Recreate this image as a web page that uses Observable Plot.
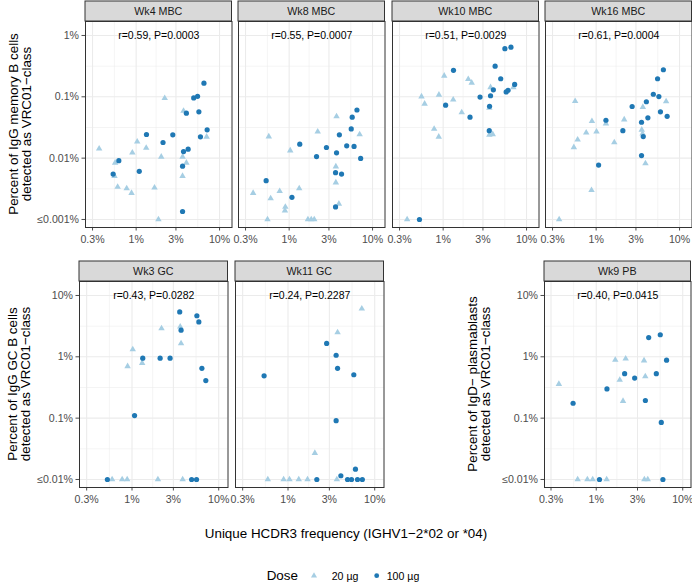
<!DOCTYPE html>
<html><head><meta charset="utf-8">
<script src="https://cdn.jsdelivr.net/npm/d3@7"></script>
<script src="https://cdn.jsdelivr.net/npm/@observablehq/plot@0.6"></script>
<style>
body{margin:0;background:#fff;}
#chart{position:relative;width:692px;height:586px;background:#fff;overflow:hidden;}
#chart svg{position:absolute;overflow:visible;}
</style></head><body><div id="chart"></div>
<script>
// ---------- data (x = unique HCDR3 frequency %, y = percent VRC01-class) ----------
const panelNames = ["Wk4 MBC", "Wk8 MBC", "Wk10 MBC", "Wk16 MBC", "Wk3 GC", "Wk11 GC", "Wk9 PB"];
const statLabels = ["r=0.59, P=0.0003", "r=0.55, P=0.0007", "r=0.51, P=0.0029", "r=0.61, P=0.0004",
                    "r=0.43, P=0.0282", "r=0.24, P=0.2287", "r=0.40, P=0.0415"];
const doseLabels = ["20 µg", "100 µg"];

const wk4_20 = [[2.2,0.095],[3.7,0.059],[7.0,0.0223],[0.36,0.0143],[1.03,0.0185],[1.32,0.0147],[0.9,0.0123],[2.0,0.0105],[3.6,0.0105],[4.0,0.0084],[0.56,0.0084],[0.55,0.0051],[3.6,0.0051],[0.6,0.0034],[0.77,0.0032],[0.88,0.0027],[1.66,0.0033],[1.85,0.001]];
const wk4_100 = [[6.5,0.167],[4.9,0.096],[5.45,0.102],[4.0,0.054],[5.65,0.057],[7.1,0.029],[5.9,0.0223],[1.33,0.0243],[2.75,0.024],[2.1,0.018],[3.7,0.0128],[4.2,0.014],[0.62,0.0091],[3.6,0.0074],[0.53,0.0055],[1.09,0.0061],[3.6,0.00135]];
const wk8_20 = [[3.7,0.048],[7.0,0.0243],[2.2,0.027],[0.57,0.0225],[1.03,0.0133],[3.63,0.0073],[3.63,0.0040],[1.32,0.0032],[0.77,0.0029],[0.37,0.0027],[0.6,0.0022],[0.9,0.0016],[0.89,0.0014],[3.95,0.0018],[0.55,0.001],[1.68,0.001],[1.84,0.001],[2.0,0.001]];
const wk8_100 = [[6.5,0.061],[5.7,0.0465],[5.55,0.030],[4.0,0.024],[4.9,0.0159],[6.0,0.0155],[7.2,0.0099],[1.34,0.0169],[2.8,0.0149],[3.7,0.0122],[2.13,0.0106],[3.6,0.0058],[4.25,0.0055],[0.53,0.0043],[1.08,0.0023],[3.6,0.0016]];
const wk10_20 = [[1.03,0.22],[2.0,0.194],[2.2,0.169],[3.7,0.143],[6.95,0.143],[0.55,0.101],[0.89,0.108],[0.6,0.077],[1.32,0.09],[1.67,0.0555],[3.58,0.066],[0.78,0.030],[0.885,0.0223],[3.58,0.024],[3.93,0.0245],[0.37,0.001]];
const wk10_100 = [[5.5,0.61],[6.5,0.645],[4.2,0.316],[1.33,0.27],[4.9,0.197],[7.2,0.159],[6.0,0.128],[5.7,0.12],[4.0,0.13],[3.7,0.104],[2.77,0.099],[3.6,0.07],[1.07,0.073],[2.1,0.0465],[3.57,0.028],[0.52,0.001]];
const wk16_20 = [[0.56,0.085],[6.9,0.084],[3.63,0.068],[0.89,0.04],[1.31,0.0367],[2.17,0.0426],[0.76,0.026],[1.01,0.027],[3.52,0.029],[3.6,0.025],[0.6,0.020],[0.54,0.015],[1.65,0.018],[3.9,0.0082],[0.88,0.003],[0.36,0.001]];
const wk16_100 = [[6.4,0.276],[5.45,0.197],[4.85,0.11],[5.65,0.101],[4.0,0.083],[2.7,0.0695],[5.9,0.057],[7.1,0.048],[4.17,0.0454],[3.5,0.0385],[1.31,0.0415],[2.09,0.028],[3.67,0.0225],[3.5,0.011],[1.07,0.0077]];
const wk3gc_20 = [[3.6,3.1],[2.19,2.9],[3.68,1.65],[1.02,1.32],[0.89,0.70],[1.31,0.79],[0.59,0.01],[0.77,0.01],[0.88,0.01],[1.99,0.01],[3.84,0.01]];
const wk3gc_100 = [[3.55,5.4],[5.6,4.67],[5.9,3.7],[3.68,2.72],[1.33,0.95],[2.11,0.95],[2.75,0.95],[6.4,0.65],[7.1,0.41],[1.07,0.11],[0.52,0.01],[4.87,0.01],[5.55,0.01]];
const wk11gc_20 = [[7.1,6.1],[3.73,2.5],[2.04,0.027],[0.585,0.01],[0.89,0.01],[1.04,0.01],[1.33,0.01],[1.68,0.01],[3.66,0.01]];
const wk11gc_100 = [[2.79,1.65],[3.59,1.06],[3.73,0.65],[0.53,0.49],[5.74,0.51],[3.59,0.091],[6.0,0.0147],[4.07,0.0115],[2.15,0.01],[4.86,0.01],[5.4,0.01],[6.33,0.01],[7.2,0.01]];
const wk9pb_20 = [[0.37,0.36],[1.66,0.89],[2.19,0.93],[3.57,0.87],[1.87,0.42],[3.69,0.48],[2.04,0.19],[0.61,0.01],[0.79,0.01],[0.91,0.01],[1.32,0.01],[3.6,0.01],[3.94,0.01]];
const wk9pb_100 = [[4.04,2.06],[5.5,2.29],[6.5,0.88],[2.13,0.53],[4.95,0.53],[2.78,0.45],[1.33,0.30],[0.54,0.175],[3.7,0.194],[5.65,0.085],[1.09,0.01],[5.9,0.01]];

// ---------- ticks ----------
const xTicks = [0.3, 1, 3, 10];
const xTickLabels = ["0.3%", "1%", "3%", "10%"];
const xMinor = [0.5477, 1.7321, 5.4772];
const yTicksTop = [0.001, 0.01, 0.1, 1];
const yTickLabelsTop = ["≤0.001%", "0.01%", "0.1%", "1%"];
const yMinorTop = [0.003162, 0.03162, 0.3162];
const yTicksBottom = [0.01, 0.1, 1, 10];
const yTickLabelsBottom = ["≤0.01%", "0.1%", "1%", "10%"];
const yMinorBottom = [0.03162, 0.3162, 3.162];

const yTitleTop = ["Percent of IgG memory B cells", "detected as VRC01−class"];
const yTitleGC = ["Percent of IgG GC B cells", "detected as VRC01−class"];
const yTitlePB = ["Percent of IgD− plasmablasts", "detected as VRC01−class"];
const xTitle = "Unique HCDR3 frequency (IGHV1−2*02 or *04)";
const legendTitle = "Dose";

// ---------- styling ----------
const FONT = '"Liberation Sans", Arial, Helvetica, sans-serif';
const LIGHT = "#a6cee3", DARK = "#1f78b4";
const chart = document.getElementById("chart");

function addPanel(p) {
  const ml = p.showY ? 70 : 4, mr = 4, mt = 22, mb = 34;
  const rows20 = p.d20.map(([x, y]) => ({x, y}));
  const rows100 = p.d100.map(([x, y]) => ({x, y}));
  const strip = (index, scales, values, dims) => {
    const g = d3.create("svg:g");
    const x0 = dims.marginLeft, w = dims.width - dims.marginLeft - dims.marginRight;
    g.append("rect").attr("x", x0).attr("y", dims.marginTop - 20).attr("width", w).attr("height", 20)
      .attr("fill", "#d9d9d9").attr("stroke", "#333333").attr("stroke-width", 1);
    g.append("text").attr("x", x0 + w / 2).attr("y", dims.marginTop - 10)
      .attr("text-anchor", "middle").attr("dominant-baseline", "central")
      .attr("fill", "#1a1a1a").attr("font-size", "10.7px").text(p.name);
    return g.node();
  };
  const fmt = (ticks, labels) => d => { const i = ticks.indexOf(d); return i >= 0 ? labels[i] : ""; };
  const svg = Plot.plot({
    width: ml + p.width + mr,
    height: mt + p.height + mb,
    marginLeft: ml, marginRight: mr, marginTop: mt, marginBottom: mb,
    style: {fontFamily: FONT, fontSize: "10.6px", color: "#4d4d4d", background: "transparent", overflow: "visible"},
    x: {type: "log", domain: p.xDomain, ticks: xTicks, tickFormat: fmt(xTicks, xTickLabels),
        tickSize: 3.5, tickPadding: 4, label: null},
    y: p.showY
      ? {type: "log", domain: p.yDomain, ticks: p.yTicks, tickFormat: fmt(p.yTicks, p.yLabels),
         tickSize: 3.5, tickPadding: 3, label: null}
      : {type: "log", domain: p.yDomain, axis: null},
    marks: [
      Plot.ruleX(xMinor, {stroke: "#ebebeb", strokeWidth: 0.55}),
      Plot.ruleY(p.yMinor, {stroke: "#ebebeb", strokeWidth: 0.55}),
      Plot.ruleX(xTicks, {stroke: "#ebebeb", strokeWidth: 1.07}),
      Plot.ruleY(p.yTicks, {stroke: "#ebebeb", strokeWidth: 1.07}),
      Plot.dot(rows20, {x: "x", y: "y", symbol: "triangle", fill: LIGHT, r: 2.4}),
      Plot.dot(rows100, {x: "x", y: "y", symbol: "circle", fill: DARK, r: 2.6}),
      Plot.text([p.stat], {frameAnchor: "top", dy: 10.3, text: d => d, fill: "#000", fontSize: 10.5}),
      Plot.frame({stroke: "#333333", strokeWidth: 1}),
      strip
    ]
  });
  svg.style.left = (p.left - ml) + "px";
  svg.style.top = (p.top - mt) + "px";
  chart.append(svg);
}

const topX = [0.247, 14.1], botX = [0.248, 12.8], pbX = [0.2523, 12.46];
const topY = [0.00074, 1.69], botY = [0.0074, 16.9];
const topRowData = [[wk4_20, wk4_100], [wk8_20, wk8_100], [wk10_20, wk10_100], [wk16_20, wk16_100]];
const topLefts = [85, 238.3, 391.6, 545];
topRowData.forEach(([d20, d100], i) => addPanel({
  name: panelNames[i], stat: statLabels[i], d20, d100,
  xDomain: topX, yDomain: topY, yTicks: yTicksTop, yMinor: yMinorTop, yLabels: yTickLabelsTop,
  showY: i === 0, left: topLefts[i], top: 21, width: 146.5, height: 206
}));
addPanel({name: panelNames[4], stat: statLabels[4], d20: wk3gc_20, d100: wk3gc_100,
  xDomain: botX, yDomain: botY, yTicks: yTicksBottom, yMinor: yMinorBottom, yLabels: yTickLabelsBottom,
  showY: true, left: 79, top: 281, width: 148.5, height: 206});
addPanel({name: panelNames[5], stat: statLabels[5], d20: wk11gc_20, d100: wk11gc_100,
  xDomain: botX, yDomain: botY, yTicks: yTicksBottom, yMinor: yMinorBottom, yLabels: yTickLabelsBottom,
  showY: false, left: 235, top: 281, width: 148.5, height: 206});
addPanel({name: panelNames[6], stat: statLabels[6], d20: wk9pb_20, d100: wk9pb_100,
  xDomain: pbX, yDomain: botY, yTicks: yTicksBottom, yMinor: yMinorBottom, yLabels: yTickLabelsBottom,
  showY: true, left: 544, top: 281, width: 146.5, height: 206});

// ---------- titles & legend ----------
const ov = d3.create("svg").attr("width", 692).attr("height", 586)
  .style("left", "0px").style("top", "0px").style("font-family", FONT);
function yTitle(lines, xs, cy) {
  lines.forEach((t, i) => ov.append("text")
    .attr("transform", `translate(${xs[i]},${cy}) rotate(-90)`)
    .attr("text-anchor", "middle").attr("dominant-baseline", "central")
    .attr("font-size", "13.4px").attr("fill", "#000").text(t));
}
yTitle(yTitleTop, [13.5, 26], 124);
yTitle(yTitleGC, [12.5, 25], 384);
yTitle(yTitlePB, [472, 485], 384);
ov.append("text").attr("x", 346).attr("y", 533).attr("text-anchor", "middle")
  .attr("dominant-baseline", "central").attr("font-size", "13.4px").attr("fill", "#000").text(xTitle);
const ly = 575.7;
ov.append("text").attr("x", 266.7).attr("y", ly).attr("dominant-baseline", "central")
  .attr("font-size", "13.4px").attr("fill", "#000").text(legendTitle);
ov.append("path").attr("d", d3.symbol(d3.symbolTriangle, 16)()).attr("transform", `translate(314,${ly})`).attr("fill", LIGHT);
ov.append("text").attr("x", 331.7).attr("y", ly).attr("dominant-baseline", "central")
  .attr("font-size", "10.6px").attr("fill", "#000").text(doseLabels[0]);
ov.append("circle").attr("cx", 376.7).attr("cy", ly).attr("r", 2.4).attr("fill", DARK);
ov.append("text").attr("x", 386.7).attr("y", ly).attr("dominant-baseline", "central")
  .attr("font-size", "10.6px").attr("fill", "#000").text(doseLabels[1]);
chart.prepend(ov.node());
</script></body></html>
